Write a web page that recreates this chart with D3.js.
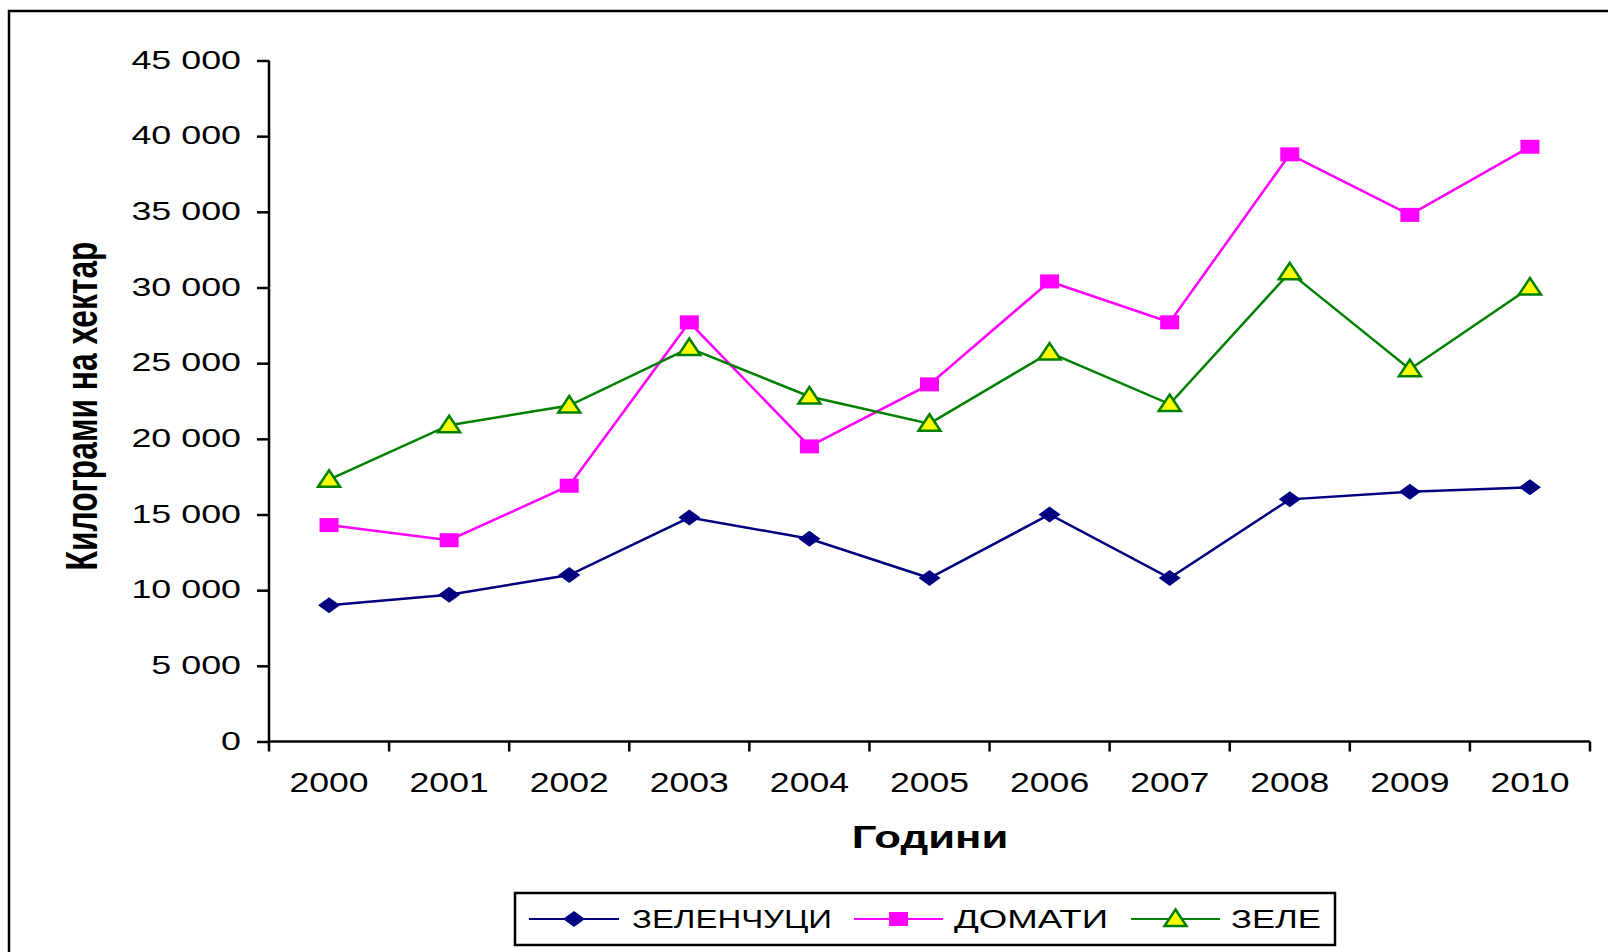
<!DOCTYPE html>
<html>
<head>
<meta charset="utf-8">
<script src="https://cdn.jsdelivr.net/npm/d3@7"></script>
<style>
  html, body { margin: 0; padding: 0; background: #fff; }
  svg { display: block; font-family: "Liberation Sans", Arial, sans-serif; }
</style>
</head>
<body>
<div id="chart"></div>
<script>
// data
const years = ['2000', '2001', '2002', '2003', '2004', '2005', '2006', '2007', '2008', '2009', '2010'];
const seriesNames = ['ЗЕЛЕНЧУЦИ', 'ДОМАТИ', 'ЗЕЛЕ'];
const zelenchutsi = [9000, 9700, 11000, 14800, 13400, 10800, 15000, 10800, 16000, 16500, 16800];
const domati = [14300, 13300, 16900, 27700, 19500, 23600, 30400, 27700, 38800, 34800, 39300];
const zele = [17300, 20900, 22200, 26000, 22800, 21000, 25700, 22300, 31000, 24600, 30000];
const yTicks = [0, 5000, 10000, 15000, 20000, 25000, 30000, 35000, 40000, 45000];
const yTitle = 'Килограми на хектар';
const xTitle = 'Години';

const width = 1608;
const height = 952;
const plot = { left: 269, right: 1590, top: 60.5, bottom: 741.5 };
const K = 1.3; // the original is stretched horizontally

// custom marker shapes (wider than tall, like the original)
const diamond = {
  draw(ctx) { ctx.moveTo(0, -8); ctx.lineTo(11, 0); ctx.lineTo(0, 8); ctx.lineTo(-11, 0); ctx.closePath(); }
};
const square = {
  draw(ctx) { ctx.rect(-9.5, -7, 19, 14); }
};
const triangle = {
  draw(ctx) { ctx.moveTo(0, -9.5); ctx.lineTo(11, 7); ctx.lineTo(-11, 7); ctx.closePath(); }
};

const series = [
  { name: seriesNames[0], values: zelenchutsi, color: '#000080', shape: diamond, fill: '#000080', mstroke: 'none' },
  { name: seriesNames[1], values: domati, color: '#FF00FF', shape: square, fill: '#FF00FF', mstroke: 'none' },
  { name: seriesNames[2], values: zele, color: '#008000', shape: triangle, fill: '#FFFF00', mstroke: '#008000' },
];

const svg = d3.select('#chart').append('svg').attr('width', width).attr('height', height);

// stretch text horizontally to match the original
function stretch(sel, k) {
  sel.each(function () {
    const w = this.getComputedTextLength();
    d3.select(this).attr('textLength', w * k).attr('lengthAdjust', 'spacingAndGlyphs');
  });
}

// outer frame (runs off the right and bottom)
svg.append('rect')
  .attr('x', 9).attr('y', 11)
  .attr('width', 1700).attr('height', 1000)
  .attr('fill', 'none').attr('stroke', '#000').attr('stroke-width', 2.5);

const x = d3.scaleBand().domain(years).range([plot.left, plot.right]).padding(0);
const y = d3.scaleLinear().domain([0, 45000]).range([plot.bottom, plot.top]);

const fmt = d3.formatLocale({ decimal: ',', thousands: ' ', grouping: [3], currency: ['', ''] }).format(',d');

// y axis
const yAxis = svg.append('g')
  .attr('transform', `translate(${plot.left},0)`)
  .call(d3.axisLeft(y).tickValues(yTicks).tickFormat(fmt).tickSize(12).tickPadding(16));
yAxis.select('.domain').attr('stroke-width', 2.5).attr('d', `M0,${plot.top}V${plot.bottom}`);
yAxis.selectAll('.tick line').attr('stroke-width', 2.5);
yAxis.selectAll('.tick text')
  .attr('font-size', 26).attr('fill', '#000')
  .attr('font-family', '"Liberation Sans", Arial, sans-serif')
  .attr('dy', '0.3em');
stretch(yAxis.selectAll('.tick text'), K * 1.06);

// x axis, ticks sit on the band edges
const xAxis = svg.append('g')
  .attr('transform', `translate(0,${plot.bottom})`)
  .call(d3.axisBottom(x).tickSize(0).tickPadding(42));
xAxis.select('.domain').attr('stroke-width', 2.5).attr('d', `M${plot.left},0H${plot.right}`);
xAxis.selectAll('.tick text')
  .attr('font-size', 28).attr('fill', '#000')
  .attr('font-family', '"Liberation Sans", Arial, sans-serif')
  .attr('dy', '0.3em');
stretch(xAxis.selectAll('.tick text'), 1.27);
xAxis.selectAll('.edge')
  .data(years.concat(['end']))
  .enter()
  .append('line')
  .attr('class', 'edge')
  .attr('x1', (d) => (d === 'end' ? plot.right : x(d)))
  .attr('x2', (d) => (d === 'end' ? plot.right : x(d)))
  .attr('y1', 0).attr('y2', 10)
  .attr('stroke', '#000').attr('stroke-width', 2.5);

// titles
svg.append('text')
  .attr('transform', 'translate(97,406) scale(1.45,1) rotate(-90)')
  .attr('text-anchor', 'middle')
  .attr('font-size', 30).attr('font-weight', 'bold')
  .attr('textLength', 329).attr('lengthAdjust', 'spacingAndGlyphs')
  .text(yTitle);

const xt = svg.append('text')
  .attr('x', 930).attr('y', 848)
  .attr('text-anchor', 'middle')
  .attr('font-size', 32).attr('font-weight', 'bold')
  .text(xTitle);
stretch(xt, K * 1.05);

// lines + markers
const cx = (i) => x(years[i]) + x.bandwidth() / 2;
const line = d3.line().x((d, i) => cx(i)).y((d) => y(d));
const sym = d3.symbol();

const g = svg.append('g');
series.forEach((s) => {
  g.append('path')
    .attr('d', line(s.values))
    .attr('fill', 'none')
    .attr('stroke', s.color)
    .attr('stroke-width', 2.5);
});
series.forEach((s) => {
  g.selectAll(null)
    .data(s.values)
    .enter()
    .append('path')
    .attr('transform', (d, i) => `translate(${cx(i)},${y(d)})`)
    .attr('d', sym.type(s.shape)())
    .attr('fill', s.fill)
    .attr('stroke', s.mstroke)
    .attr('stroke-width', 2.5);
});

// legend
const legend = svg.append('g');
legend.append('rect')
  .attr('x', 515).attr('y', 893)
  .attr('width', 820).attr('height', 52)
  .attr('fill', '#fff').attr('stroke', '#000').attr('stroke-width', 2.5);

const legendItems = [
  { x1: 529, x2: 619, tx: 632, tw: 200 },
  { x1: 854, x2: 943, tx: 954, tw: 154 },
  { x1: 1131, x2: 1220, tx: 1231, tw: 90 },
];
legendItems.forEach((it, i) => {
  const s = series[i];
  const ly = 919;
  legend.append('line')
    .attr('x1', it.x1).attr('x2', it.x2)
    .attr('y1', ly).attr('y2', ly)
    .attr('stroke', s.color).attr('stroke-width', 2);
  legend.append('path')
    .attr('transform', `translate(${(it.x1 + it.x2) / 2},${ly})`)
    .attr('d', sym.type(s.shape)())
    .attr('fill', s.fill)
    .attr('stroke', s.mstroke)
    .attr('stroke-width', 2.5);
  legend.append('text')
    .attr('x', it.tx).attr('y', 928)
    .attr('font-size', 26)
    .attr('textLength', it.tw).attr('lengthAdjust', 'spacingAndGlyphs')
    .text(s.name);
});
</script>
</body>
</html>
